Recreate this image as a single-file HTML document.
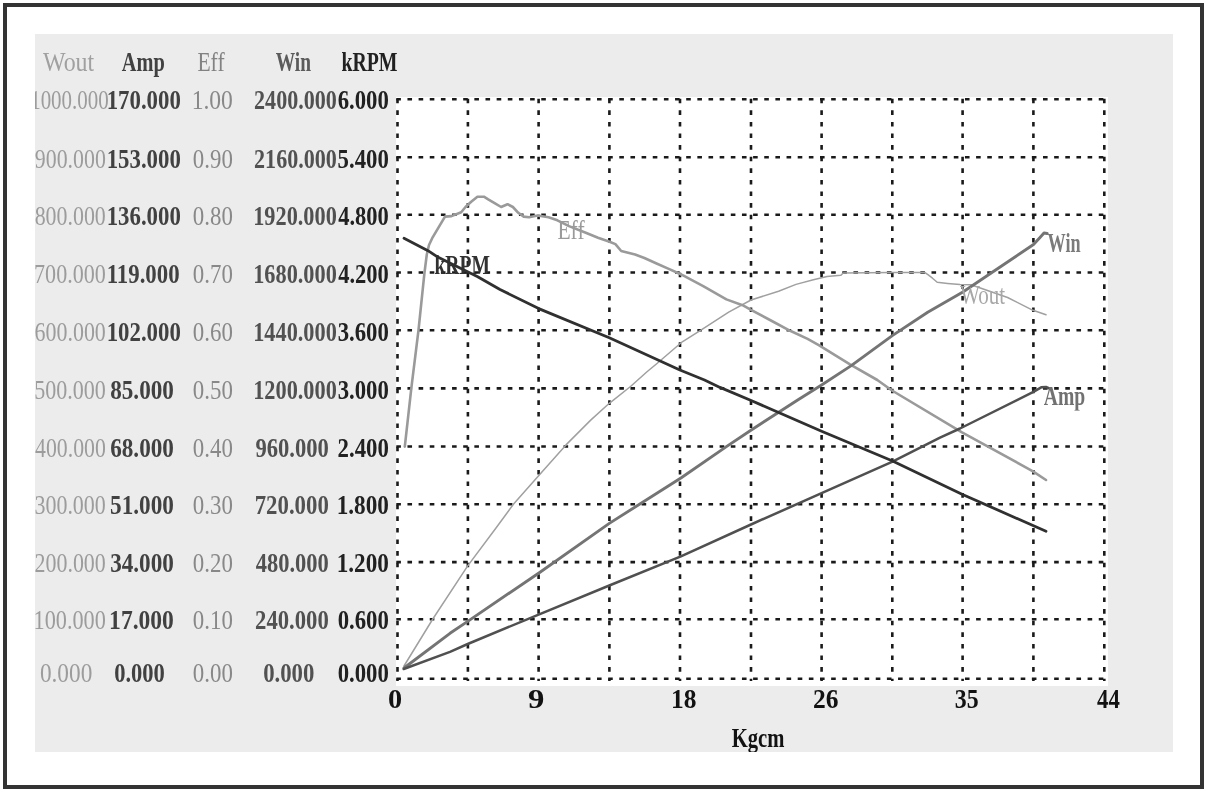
<!DOCTYPE html><html><head><meta charset="utf-8"><style>html,body{margin:0;padding:0;background:#fff;overflow:hidden;width:1207px;height:792px}svg{display:block}text{font-family:"Liberation Serif",serif}</style></head><body>
<svg width="1207" height="792" viewBox="0 0 1207 792">
<rect x="5" y="5" width="1197" height="782" fill="#fff" stroke="#333" stroke-width="4"/>
<rect x="35" y="34" width="1138" height="718" fill="#ececec"/>
<rect x="396" y="97" width="712" height="589" fill="#fff"/>
<g stroke="#1a1a1a" stroke-width="2.6" stroke-dasharray="4.6 6.55"><line x1="396.30" y1="99.20" x2="1106.2" y2="99.20"/><line x1="396.30" y1="157.30" x2="1106.2" y2="157.30"/><line x1="396.30" y1="214.80" x2="1106.2" y2="214.80"/><line x1="396.30" y1="272.50" x2="1106.2" y2="272.50"/><line x1="396.30" y1="330.30" x2="1106.2" y2="330.30"/><line x1="396.30" y1="388.40" x2="1106.2" y2="388.40"/><line x1="396.30" y1="446.50" x2="1106.2" y2="446.50"/><line x1="396.30" y1="504.20" x2="1106.2" y2="504.20"/><line x1="396.30" y1="562.10" x2="1106.2" y2="562.10"/><line x1="396.30" y1="619.20" x2="1106.2" y2="619.20"/><line x1="396.30" y1="678.80" x2="1106.2" y2="678.80"/></g>
<g stroke="#1a1a1a" stroke-width="2.6" stroke-dasharray="4.6 7.0"><line x1="397.5" y1="98.70" x2="397.5" y2="681.0"/><line x1="467.9" y1="98.70" x2="467.9" y2="681.0"/><line x1="538.6" y1="98.70" x2="538.6" y2="681.0"/><line x1="609.4" y1="98.70" x2="609.4" y2="681.0"/><line x1="680.0" y1="98.70" x2="680.0" y2="681.0"/><line x1="751.0" y1="98.70" x2="751.0" y2="681.0"/><line x1="821.6" y1="98.70" x2="821.6" y2="681.0"/><line x1="892.3" y1="98.70" x2="892.3" y2="681.0"/><line x1="962.6" y1="98.70" x2="962.6" y2="681.0"/><line x1="1033.4" y1="98.70" x2="1033.4" y2="681.0"/><line x1="1104.3" y1="98.70" x2="1104.3" y2="681.0"/></g>
<path d="M404.0 666.0 L432.8 619.0 L467.7 565.9 L496.0 528.0 L513.6 504.0 L537.7 476.7 L566.0 444.9 L590.7 420.1 L609.3 403.3 L630.5 386.5 L647.3 371.5 L657.0 363.5 L682.3 341.8 L700.9 330.2 L728.7 312.2 L751.0 300.0 L778.6 291.3 L796.0 284.4 L813.4 279.7 L827.0 276.5 L840.9 275.3 L843.2 273.0 L892.0 272.4 L925.0 272.6 L927.9 274.7 L932.5 278.2 L937.2 282.3 L947.6 283.4 L960.0 284.6 L971.0 284.7 L1007.6 297.5 L1033.0 310.3 L1046.0 314.8" fill="none" stroke="#a0a0a0" stroke-width="1.5" stroke-linejoin="round" stroke-linecap="round"/>
<path d="M404.8 446.6 L411.3 388.3 L418.5 330.2 L424.4 273.4 L426.8 254.5 L429.0 245.0 L432.2 238.2 L438.6 227.4 L445.0 216.6 L451.5 216.1 L461.2 212.3 L465.5 207.0 L470.9 202.0 L477.4 196.7 L483.9 196.7 L488.2 199.4 L494.6 203.2 L501.1 207.0 L507.5 204.2 L512.9 207.0 L518.3 212.8 L523.7 216.6 L529.0 217.2 L537.7 215.5 L548.5 217.2 L557.4 220.3 L569.0 226.1 L586.4 233.0 L598.0 237.7 L609.6 241.8 L615.4 244.1 L621.2 251.0 L635.1 254.5 L644.4 258.0 L656.0 263.2 L667.6 268.4 L678.0 273.0 L683.5 275.7 L703.2 286.1 L726.4 299.4 L742.6 305.2 L751.0 309.9 L772.8 321.5 L790.2 330.8 L807.6 338.9 L819.2 345.3 L850.0 364.3 L877.3 380.0 L892.0 390.5 L962.0 432.4 L1033.0 471.3 L1046.0 480.0" fill="none" stroke="#9a9a9a" stroke-width="2.6" stroke-linejoin="round" stroke-linecap="round"/>
<path d="M404.0 668.0 L450.0 633.3 L467.7 621.4 L540.0 572.2 L609.3 523.4 L680.9 478.0 L726.4 446.6 L750.9 430.2 L797.7 400.0 L821.6 385.0 L850.9 365.9 L892.3 335.6 L927.7 312.3 L962.9 292.0 L1033.5 244.5 L1040.0 237.5 L1044.0 233.0 L1047.2 233.5" fill="none" stroke="#747474" stroke-width="2.9" stroke-linejoin="round" stroke-linecap="round"/>
<path d="M403.7 669.0 L450.0 651.8 L467.7 644.0 L538.0 614.8 L609.3 585.5 L680.9 556.4 L751.0 524.5 L821.6 493.2 L892.0 461.8 L940.0 437.7 L960.0 428.5 L1033.4 391.9 L1041.2 387.3 L1046.0 387.0 L1049.3 388.4" fill="none" stroke="#505050" stroke-width="2.5" stroke-linejoin="round" stroke-linecap="round"/>
<path d="M404.0 238.3 L428.0 250.7 L436.7 256.4 L477.7 276.7 L500.0 289.5 L538.7 308.6 L609.3 337.8 L679.9 370.0 L704.5 380.0 L720.0 387.4 L751.1 400.5 L821.6 431.3 L892.0 460.7 L962.0 494.2 L1046.0 531.3" fill="none" stroke="#303030" stroke-width="2.8" stroke-linejoin="round" stroke-linecap="round"/>
<clipPath id="pc"><rect x="35" y="34" width="1138" height="718"/></clipPath>
<g clip-path="url(#pc)" opacity="0.995"><text transform="translate(434.51 274.20) scale(0.7104 1)" font-size="27.50" font-weight="bold" fill="#303030">kRPM</text><text transform="translate(557.38 239.40) scale(0.7867 1)" font-size="27.50" font-weight="normal" fill="#9a9a9a">Eff</text><text transform="translate(959.98 303.90) scale(0.7667 1)" font-size="27.50" font-weight="normal" fill="#a8a8a8">Wout</text><text transform="translate(1047.54 252.10) scale(0.6609 1)" font-size="27.50" font-weight="bold" fill="#7a7a7a">Win</text><text transform="translate(1043.81 404.60) scale(0.7146 1)" font-size="27.50" font-weight="bold" fill="#707070">Amp</text><text transform="translate(42.98 71.00) scale(0.8702 1)" font-size="27.50" font-weight="normal" fill="#a0a0a0">Wout</text><text transform="translate(121.80 71.00) scale(0.7410 1)" font-size="27.50" font-weight="bold" fill="#404040">Amp</text><text transform="translate(197.38 71.00) scale(0.7867 1)" font-size="27.50" font-weight="normal" fill="#828282">Eff</text><text transform="translate(275.73 71.00) scale(0.7052 1)" font-size="27.50" font-weight="bold" fill="#5a5a5a">Win</text><text transform="translate(341.51 71.00) scale(0.7196 1)" font-size="27.50" font-weight="bold" fill="#202020">kRPM</text><text transform="translate(30.16 109.44) scale(0.7626 1)" font-size="27.50" font-weight="normal" fill="#9c9c9c">1000.000</text><text transform="translate(106.67 109.44) scale(0.8302 1)" font-size="27.50" font-weight="bold" fill="#404040">170.000</text><text transform="translate(191.63 109.44) scale(0.8576 1)" font-size="27.50" font-weight="normal" fill="#888">1.00</text><text transform="translate(254.07 109.44) scale(0.8026 1)" font-size="27.50" font-weight="bold" fill="#505050">2400.000</text><text transform="translate(337.72 109.44) scale(0.8265 1)" font-size="27.50" font-weight="bold" fill="#202020">6.000</text><text transform="translate(34.80 167.54) scale(0.7948 1)" font-size="27.50" font-weight="normal" fill="#9c9c9c">900.000</text><text transform="translate(106.67 167.54) scale(0.8302 1)" font-size="27.50" font-weight="bold" fill="#404040">153.000</text><text transform="translate(192.83 167.54) scale(0.8321 1)" font-size="27.50" font-weight="normal" fill="#888">0.90</text><text transform="translate(254.07 167.54) scale(0.8026 1)" font-size="27.50" font-weight="bold" fill="#505050">2160.000</text><text transform="translate(337.59 167.54) scale(0.8288 1)" font-size="27.50" font-weight="bold" fill="#202020">5.400</text><text transform="translate(34.67 225.04) scale(0.7963 1)" font-size="27.50" font-weight="normal" fill="#9c9c9c">800.000</text><text transform="translate(106.67 225.04) scale(0.8302 1)" font-size="27.50" font-weight="bold" fill="#404040">136.000</text><text transform="translate(192.83 225.04) scale(0.8321 1)" font-size="27.50" font-weight="normal" fill="#888">0.80</text><text transform="translate(253.21 225.04) scale(0.8110 1)" font-size="27.50" font-weight="bold" fill="#505050">1920.000</text><text transform="translate(338.19 225.04) scale(0.8188 1)" font-size="27.50" font-weight="bold" fill="#202020">4.800</text><text transform="translate(34.04 282.74) scale(0.8033 1)" font-size="27.50" font-weight="normal" fill="#9c9c9c">700.000</text><text transform="translate(106.67 282.74) scale(0.8302 1)" font-size="27.50" font-weight="bold" fill="#404040">119.000</text><text transform="translate(192.83 282.74) scale(0.8321 1)" font-size="27.50" font-weight="normal" fill="#888">0.70</text><text transform="translate(253.21 282.74) scale(0.8110 1)" font-size="27.50" font-weight="bold" fill="#505050">1680.000</text><text transform="translate(338.19 282.74) scale(0.8188 1)" font-size="27.50" font-weight="bold" fill="#202020">4.200</text><text transform="translate(34.56 340.54) scale(0.7975 1)" font-size="27.50" font-weight="normal" fill="#9c9c9c">600.000</text><text transform="translate(106.67 340.54) scale(0.8302 1)" font-size="27.50" font-weight="bold" fill="#404040">102.000</text><text transform="translate(192.83 340.54) scale(0.8321 1)" font-size="27.50" font-weight="normal" fill="#888">0.60</text><text transform="translate(253.21 340.54) scale(0.8110 1)" font-size="27.50" font-weight="bold" fill="#505050">1440.000</text><text transform="translate(337.64 340.54) scale(0.8278 1)" font-size="27.50" font-weight="bold" fill="#202020">3.600</text><text transform="translate(34.22 398.64) scale(0.8013 1)" font-size="27.50" font-weight="normal" fill="#9c9c9c">500.000</text><text transform="translate(110.23 398.64) scale(0.8417 1)" font-size="27.50" font-weight="bold" fill="#404040">85.000</text><text transform="translate(192.83 398.64) scale(0.8321 1)" font-size="27.50" font-weight="normal" fill="#888">0.50</text><text transform="translate(253.21 398.64) scale(0.8110 1)" font-size="27.50" font-weight="bold" fill="#505050">1200.000</text><text transform="translate(337.64 398.64) scale(0.8278 1)" font-size="27.50" font-weight="bold" fill="#202020">3.000</text><text transform="translate(35.07 456.74) scale(0.7917 1)" font-size="27.50" font-weight="normal" fill="#9c9c9c">400.000</text><text transform="translate(110.21 456.74) scale(0.8420 1)" font-size="27.50" font-weight="bold" fill="#404040">68.000</text><text transform="translate(192.83 456.74) scale(0.8321 1)" font-size="27.50" font-weight="normal" fill="#888">0.40</text><text transform="translate(255.38 456.74) scale(0.8221 1)" font-size="27.50" font-weight="bold" fill="#505050">960.000</text><text transform="translate(337.54 456.74) scale(0.8295 1)" font-size="27.50" font-weight="bold" fill="#202020">2.400</text><text transform="translate(34.45 514.44) scale(0.7987 1)" font-size="27.50" font-weight="normal" fill="#9c9c9c">300.000</text><text transform="translate(110.07 514.44) scale(0.8438 1)" font-size="27.50" font-weight="bold" fill="#404040">51.000</text><text transform="translate(192.83 514.44) scale(0.8321 1)" font-size="27.50" font-weight="normal" fill="#888">0.30</text><text transform="translate(254.70 514.44) scale(0.8299 1)" font-size="27.50" font-weight="bold" fill="#505050">720.000</text><text transform="translate(336.64 514.44) scale(0.8443 1)" font-size="27.50" font-weight="bold" fill="#202020">1.800</text><text transform="translate(34.54 572.34) scale(0.7978 1)" font-size="27.50" font-weight="normal" fill="#9c9c9c">200.000</text><text transform="translate(110.13 572.34) scale(0.8430 1)" font-size="27.50" font-weight="bold" fill="#404040">34.000</text><text transform="translate(192.83 572.34) scale(0.8321 1)" font-size="27.50" font-weight="normal" fill="#888">0.20</text><text transform="translate(255.69 572.34) scale(0.8186 1)" font-size="27.50" font-weight="bold" fill="#505050">480.000</text><text transform="translate(336.64 572.34) scale(0.8443 1)" font-size="27.50" font-weight="bold" fill="#202020">1.200</text><text transform="translate(33.54 629.44) scale(0.8090 1)" font-size="27.50" font-weight="normal" fill="#9c9c9c">100.000</text><text transform="translate(109.11 629.44) scale(0.8566 1)" font-size="27.50" font-weight="bold" fill="#404040">17.000</text><text transform="translate(192.83 629.44) scale(0.8321 1)" font-size="27.50" font-weight="normal" fill="#888">0.10</text><text transform="translate(255.05 629.44) scale(0.8259 1)" font-size="27.50" font-weight="bold" fill="#505050">240.000</text><text transform="translate(337.63 629.44) scale(0.8280 1)" font-size="27.50" font-weight="bold" fill="#202020">0.600</text><text transform="translate(39.91 682.30) scale(0.8464 1)" font-size="27.50" font-weight="normal" fill="#9c9c9c">0.000</text><text transform="translate(114.14 682.30) scale(0.8197 1)" font-size="27.50" font-weight="bold" fill="#404040">0.000</text><text transform="translate(192.83 682.30) scale(0.8321 1)" font-size="27.50" font-weight="normal" fill="#888">0.00</text><text transform="translate(263.13 682.30) scale(0.8280 1)" font-size="27.50" font-weight="bold" fill="#505050">0.000</text><text transform="translate(337.63 682.30) scale(0.8280 1)" font-size="27.50" font-weight="bold" fill="#202020">0.000</text><text transform="translate(387.92 708.20) scale(1.0296 1)" font-size="27.50" font-weight="bold" fill="#111">0</text><text transform="translate(528.10 708.20) scale(1.1912 1)" font-size="27.50" font-weight="bold" fill="#111">9</text><text transform="translate(670.96 708.20) scale(0.9268 1)" font-size="27.50" font-weight="bold" fill="#111">18</text><text transform="translate(812.93 708.20) scale(0.9280 1)" font-size="27.50" font-weight="bold" fill="#111">26</text><text transform="translate(954.80 708.20) scale(0.8681 1)" font-size="27.50" font-weight="bold" fill="#111">35</text><text transform="translate(1097.09 708.20) scale(0.8266 1)" font-size="27.50" font-weight="bold" fill="#111">44</text><text transform="translate(731.65 747.40) scale(0.7502 1)" font-size="27.50" font-weight="bold" fill="#111">Kgcm</text></g>
</svg></body></html>
